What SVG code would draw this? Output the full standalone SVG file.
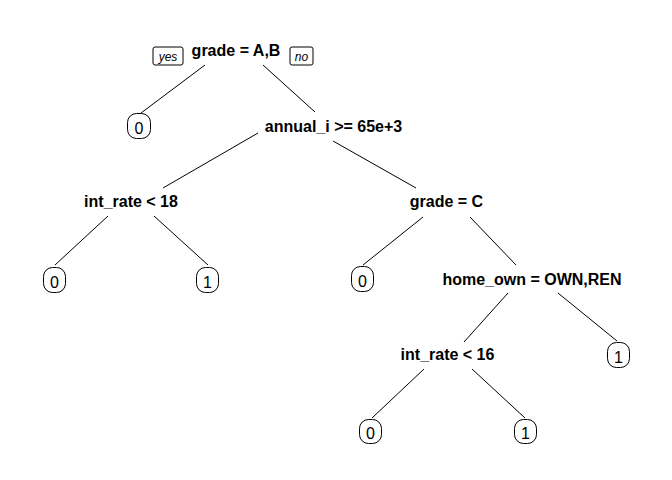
<svg xmlns="http://www.w3.org/2000/svg" width="672" height="480" viewBox="0 0 672 480">
<style>
.bg{fill:#ffffff}
.lbl{font-family:"Liberation Sans",Arial,sans-serif;font-size:16px;font-weight:bold;fill:#000;text-anchor:middle}
.leaf rect{fill:#ffffff;stroke:#000;stroke-width:1}
.leaf text{font-family:"Liberation Sans",Arial,sans-serif;font-size:16px;fill:#000;text-anchor:middle}
.yn rect{fill:#ffffff;stroke:#000;stroke-width:1}
.yn text{font-family:"Liberation Sans",Arial,sans-serif;font-size:12px;font-style:italic;fill:#000;text-anchor:middle}
.edges line{stroke:#000;stroke-width:1}
</style>
<rect class="bg" x="0" y="0" width="672" height="480"/>
<g id="connectors" class="edges">
<line x1="205" y1="65" x2="141" y2="113"/>
<line x1="263" y1="65" x2="315" y2="112"/>
<line x1="258" y1="133" x2="163" y2="188"/>
<line x1="333" y1="141" x2="416" y2="188"/>
<line x1="108" y1="216" x2="55" y2="265"/>
<line x1="154" y1="216" x2="208" y2="265"/>
<line x1="423" y1="217" x2="363" y2="265"/>
<line x1="470" y1="217" x2="516" y2="265"/>
<line x1="508" y1="293" x2="464" y2="342"/>
<line x1="558" y1="293" x2="617" y2="341"/>
<line x1="424" y1="369" x2="372" y2="418"/>
<line x1="472" y1="369" x2="525" y2="418"/>
</g>
<g id="yes" class="yn"><rect x="153" y="47" width="30" height="18" rx="2"/><text x="168" y="61">yes</text></g>
<g id="no" class="yn"><rect x="290" y="47" width="23" height="18" rx="2"/><text x="301.5" y="61">no</text></g>
<g id="n1"><text class="lbl" x="236" y="56">grade = A,B</text></g>
<g id="n2" class="leaf"><rect x="127.5" y="113.5" width="23" height="25" rx="9"/><text x="139" y="134">0</text></g>
<g id="n3"><text class="lbl" x="333.5" y="132">annual_i &gt;= 65e+3</text></g>
<g id="n4"><text class="lbl" x="131" y="207">int_rate &lt; 18</text></g>
<g id="n5" class="leaf"><rect x="43.5" y="267.5" width="22" height="25" rx="9"/><text x="54.5" y="288">0</text></g>
<g id="n6" class="leaf"><rect x="196.5" y="267.5" width="22" height="25" rx="9"/><text x="207.5" y="288">1</text></g>
<g id="n7"><text class="lbl" x="446.5" y="207">grade = C</text></g>
<g id="n8" class="leaf"><rect x="351.5" y="266.5" width="22" height="25" rx="9"/><text x="362.5" y="287">0</text></g>
<g id="n9"><text class="lbl" x="532" y="285">home_own = OWN,REN</text></g>
<g id="n10"><text class="lbl" x="447.5" y="360">int_rate &lt; 16</text></g>
<g id="n11" class="leaf"><rect x="607.5" y="342.5" width="22" height="25" rx="9"/><text x="618.5" y="363">1</text></g>
<g id="n12" class="leaf"><rect x="359.5" y="419.5" width="22" height="24" rx="9"/><text x="370.5" y="439">0</text></g>
<g id="n13" class="leaf"><rect x="514.5" y="419.5" width="22" height="24" rx="9"/><text x="525.5" y="439">1</text></g>
</svg>
